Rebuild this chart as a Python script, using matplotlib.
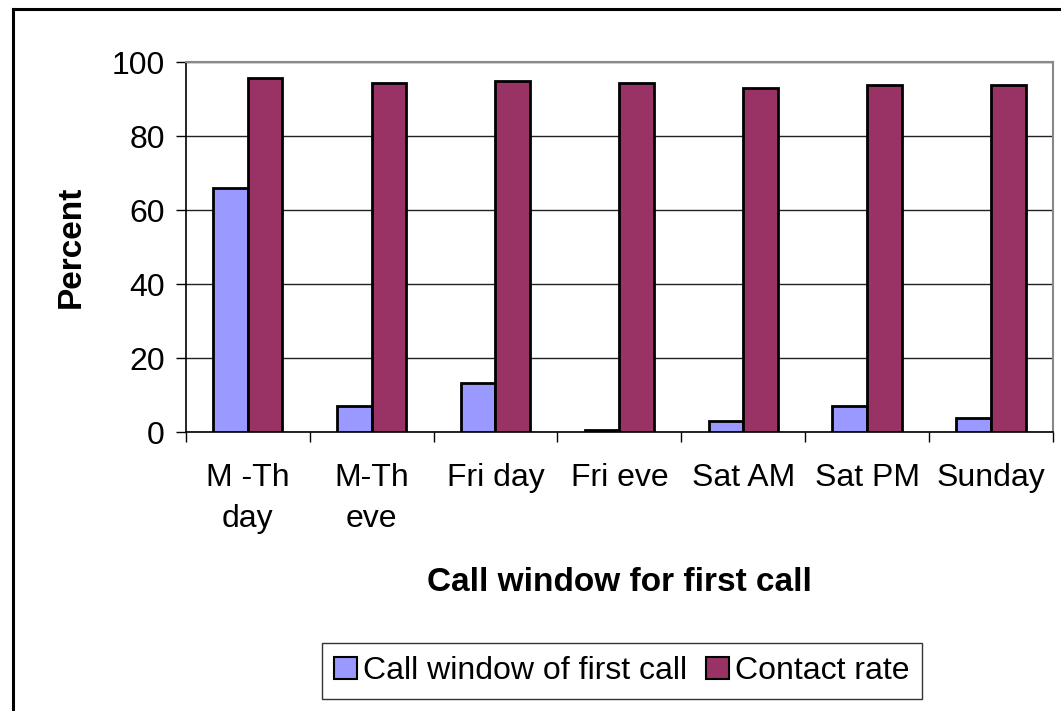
import numpy as np
import matplotlib
matplotlib.use('Agg')
import matplotlib.pyplot as plt
from matplotlib.lines import Line2D
from matplotlib.patches import Patch

### data
categories = ['M -Th\nday', 'M-Th\neve', 'Fri day', 'Fri eve', 'Sat AM', 'Sat PM', 'Sunday']
first_call = [66.0, 7.0, 13.3, 0.5, 3.0, 7.0, 3.7]
contact_rate = [95.8, 94.4, 95.0, 94.4, 93.0, 93.8, 93.8]
series_names = ['Call window of first call', 'Contact rate']

plt.rcParams['font.family'] = ['Liberation Sans', 'DejaVu Sans']

fig = plt.figure(figsize=(10.61, 7.11), dpi=100)
ax = fig.add_axes([185.7/1061, 1-432/711, (1053-185.7)/1061, (432-62)/711])

x = np.arange(len(categories))
w = 0.28
ax.bar(x - w/2, first_call, w, color='#9999FF', edgecolor='black', linewidth=2.0, zorder=3)
ax.bar(x + w/2, contact_rate, w, color='#993366', edgecolor='black', linewidth=2.0, zorder=3)

ax.set_xlim(-0.5, len(categories) - 0.5)
ax.set_ylim(0, 100)
ax.set_yticks([0, 20, 40, 60, 80, 100])
ax.yaxis.grid(True, color='#222222', linewidth=1.0, zorder=0)
ax.set_axisbelow(True)

ax.set_xticks(x)
ax.set_xticklabels(categories, fontsize=23, linespacing=1.5)
ax.set_xticks(np.arange(len(categories) + 1) - 0.5, minor=True)
ax.tick_params(axis='x', which='major', length=0, pad=22)
ax.tick_params(axis='x', which='minor', length=7, width=1, direction='out')
ax.tick_params(axis='y', labelsize=23, length=7, width=1, direction='out', pad=8)

for side in ['left', 'bottom']:
    ax.spines[side].set_color('black')
    ax.spines[side].set_linewidth(1.2)
for side in ['top', 'right']:
    ax.spines[side].set_color('#888888')
    ax.spines[side].set_linewidth(1.5)

ax.set_ylabel('Percent', fontsize=24, fontweight='bold', labelpad=18)
ax.set_xlabel('Call window for first call', fontsize=24, fontweight='bold', labelpad=24)

handles = [Patch(facecolor='#9999FF', edgecolor='black', linewidth=1.5),
           Patch(facecolor='#993366', edgecolor='black', linewidth=1.5)]
leg = fig.legend(handles, series_names, loc='center', ncol=2,
                 bbox_to_anchor=(622/1061, 1-671/711), fontsize=23,
                 frameon=True, fancybox=False, edgecolor='black',
                 handlelength=0.7, handleheight=0.7, handletextpad=0.2,
                 columnspacing=0.6, borderpad=0.4, borderaxespad=0)
leg.get_frame().set_linewidth(1.0)

# outer chart border (only left and top visible in the crop)
fig.add_artist(Line2D([13/1061, 13/1061], [0, 1-9/711], color='black', linewidth=2.2))
fig.add_artist(Line2D([13/1061, 1], [1-9/711, 1-9/711], color='black', linewidth=2.2))

fig.savefig('out.png', dpi=100)
